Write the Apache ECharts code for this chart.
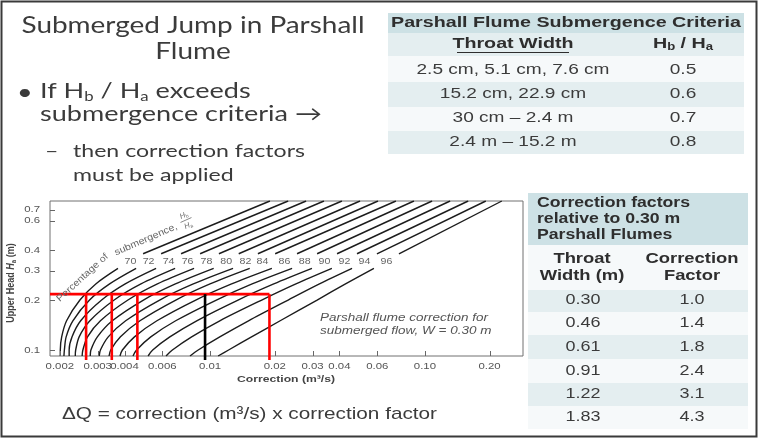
<!DOCTYPE html>
<html>
<head>
<meta charset="utf-8">
<title>Submerged Jump in Parshall Flume</title>
<script src="https://cdn.jsdelivr.net/npm/echarts@6/dist/echarts.min.js"></script>
<style>
html,body{margin:0;padding:0;background:#fff;}
#chart{width:760px;height:442px;}
</style>
</head>
<body>
<div id="chart"></div>
<script>
// ---------------- data ----------------
const submergence = [70, 72, 74, 76, 78, 80, 82, 84, 86, 88, 90, 92, 94, 96];
// upper head Ha (m) at which each curve was read; gap (label) between 0.31 and 0.38
const headLower = [0.092, 0.1, 0.12, 0.15, 0.2, 0.25, 0.31];
const headUpper = [0.38, 0.79];
// correction (m3/s) of each submergence curve at the heads above
const corr70 = [0.00201, 0.00201, 0.00204, 0.00215, 0.00248, 0.00294, 0.00373, 0.00488, 0.0190];
const corr72 = [0.00209, 0.00210, 0.00214, 0.00230, 0.00275, 0.00341, 0.00453, 0.00592, 0.0231];
const corr74 = [0.00221, 0.00221, 0.00228, 0.00250, 0.00313, 0.00403, 0.00561, 0.00733, 0.0280];
const corr76 = [0.00236, 0.00237, 0.00246, 0.00276, 0.00358, 0.00477, 0.00688, 0.00899, 0.0339];
const corr78 = [0.00254, 0.00256, 0.00269, 0.00309, 0.00415, 0.00569, 0.00843, 0.0110, 0.0411];
const corr80 = [0.00277, 0.00279, 0.00299, 0.00351, 0.00490, 0.00690, 0.0104, 0.0136, 0.0499];
const corr82 = [0.00305, 0.00309, 0.00336, 0.00405, 0.00583, 0.00836, 0.0128, 0.0167, 0.0605];
const corr84 = [0.00339, 0.00345, 0.00383, 0.00472, 0.00693, 0.0100, 0.0153, 0.0201, 0.0733];
const corr86 = [0.00381, 0.00391, 0.00445, 0.00566, 0.00858, 0.0126, 0.0194, 0.0254, 0.0889];
const corr88 = [0.00438, 0.00455, 0.00530, 0.00692, 0.0107, 0.0157, 0.0241, 0.0315, 0.108];
const corr90 = [0.00515, 0.00541, 0.00650, 0.00867, 0.0135, 0.0198, 0.0298, 0.0390, 0.131];
const corr92 = [0.00624, 0.00668, 0.00821, 0.0111, 0.0174, 0.0251, 0.0369, 0.0483, 0.159];
const corr94 = [0.00807, 0.00881, 0.0111, 0.0151, 0.0231, 0.0323, 0.0458, 0.0598, 0.192];
const corr96 = [0.0109, 0.0122, 0.0156, 0.0212, 0.0315, 0.0427, 0.0579, 0.0757, 0.228];
const curveCorrections = [corr70, corr72, corr74, corr76, corr78, corr80, corr82,
                          corr84, corr86, corr88, corr90, corr92, corr94, corr96];

const xTickLabels = ['0.002', '0.003', '0.004', '0.006', '0.01', '0.02', '0.03', '0.04', '0.06', '0.10', '0.20'];
const yTickLabels = ['0.1', '0.2', '0.3', '0.4', '0.6', '0.7'];
const xRange = [0.0018, 0.286];
const yRange = [0.092, 0.79];

// worked example drawn on the chart
const exampleHead = 0.217;
const exampleBottom = 0.087;
const exampleCorrRed = [0.00265, 0.00349, 0.00459, 0.0189];
const exampleCorrBlack = [0.00948];

// tables
const criteriaWidths = ['2.5 cm, 5.1 cm, 7.6 cm', '15.2 cm, 22.9 cm', '30 cm \u2013 2.4 m', '2.4 m \u2013 15.2 m'];
const criteriaRatios = ['0.5', '0.6', '0.7', '0.8'];
const factorWidths = ['0.30', '0.46', '0.61', '0.91', '1.22', '1.83'];
const factorValues = ['1.0', '1.4', '1.8', '2.4', '3.1', '4.3'];

// ---------------- helpers ----------------
const FS = '"Liberation Sans", Arial, sans-serif';
const FL = 'Lato, "Open Sans", sans-serif';
const mctx = document.createElement('canvas').getContext('2d');
function fit(text, size, family, weight, style, width) {
  mctx.font = (style || 'normal') + ' ' + (weight || 'normal') + ' ' + size + 'px ' + family;
  return width / mctx.measureText(text).width;
}
function txt(text, x, y, o) {
  const st = {
    text: text, fontFamily: o.family || FS, fontSize: o.size || 12,
    fontWeight: o.weight || 'normal', fontStyle: o.style || 'normal',
    fill: o.fill || '#333', align: o.align || 'left', verticalAlign: o.va || 'middle',
    textAlign: o.align || 'left', textVerticalAlign: o.va || 'middle'
  };
  if (o.rich) st.rich = o.rich;
  if (o.lh) st.lineHeight = o.lh;
  return { type: 'text', x: x, y: y, silent: true, z: 100,
    scaleX: o.sx || 1, scaleY: o.sy || 1, rotation: o.rot || 0, style: st };
}
function subRich(family, size, weight, fill, italic) {
  const ss = Math.round(size * 0.64);
  return {
    s: { fontFamily: family, fontSize: ss, fontWeight: weight, fontStyle: 'normal', fill: fill, verticalAlign: 'bottom', lineHeight: ss + 1 },
    i: { fontFamily: family, fontSize: size, fontWeight: weight, fontStyle: italic ? 'italic' : 'normal', fill: fill, lineHeight: Math.round(size * 1.2) }
  };
}
function rect(x, y, w, h, fill) {
  return { type: 'rect', silent: true, z: 1, shape: { x: x, y: y, width: w, height: h }, style: { fill: fill } };
}

// ---------------- graphic (slide content) ----------------
const G = [];
const ink = '#3b3b3b';
// slide frame
G.push({ type: 'rect', silent: true, z: 200, shape: { x: 1.5, y: 1.5, width: 755, height: 435 }, style: { fill: 'none', stroke: '#3a3a3a', lineWidth: 2 } });

// title
const tSx = fit('Submerged Jump in Parshall', 24, FL, 'normal', 'normal', 343);
G.push(txt('Submerged Jump in Parshall', 193, 25, { family: FL, size: 24, fill: ink, align: 'center', sx: tSx }));
G.push(txt('Flume', 193, 51, { family: FL, size: 24, fill: ink, align: 'center', sx: tSx }));

// bullets
const bSx = fit('submergence criteria \u2192', 21, FL, 'normal', 'normal', 282);
G.push(txt('\u2022', 17, 93, { family: FL, size: 21, fill: ink, sx: bSx }));
G.push(txt('If H{s|b} / H{s|a} exceeds', 40, 91, { family: FL, size: 21, fill: ink, sx: bSx, lh: 24,
  rich: subRich(FL, 21, 'normal', ink, false) }));
G.push(txt('submergence criteria \u2192', 40, 114, { family: FL, size: 21, fill: ink, sx: bSx }));
const b2Sx = fit('then correction factors', 18, FL, 'normal', 'normal', 232);
G.push(txt('\u2013', 45, 151, { family: FL, size: 18, fill: ink, sx: b2Sx }));
G.push(txt('then correction factors', 73, 151, { family: FL, size: 18, fill: ink, sx: b2Sx }));
G.push(txt('must be applied', 73, 175, { family: FL, size: 18, fill: ink, sx: b2Sx }));

// table 1 : submergence criteria
const headFill = '#cde1e5', rowDark = '#e4eef0', rowLight = '#f6f9fa';
G.push(rect(388, 13, 356, 20, headFill));
const t1Rows = [33, 56, 82, 107, 131, 154];
for (let i = 0; i < t1Rows.length - 1; i++) {
  G.push(rect(388, t1Rows[i], 356, t1Rows[i + 1] - t1Rows[i], i % 2 === 0 ? rowDark : rowLight));
}
const t1hSx = fit('Parshall Flume Submergence Criteria', 15, FS, 'bold', 'normal', 350);
G.push(txt('Parshall Flume Submergence Criteria', 566, 23, { size: 15, weight: 'bold', fill: '#2e2e2e', align: 'center', sx: t1hSx }));
G.push(txt('Throat Width', 513, 44, { size: 15, weight: 'bold', fill: '#2e2e2e', align: 'center', sx: t1hSx }));
G.push({ type: 'line', silent: true, z: 100, shape: { x1: 457, y1: 52.5, x2: 569, y2: 52.5 }, style: { stroke: '#2e2e2e', lineWidth: 1.2 } });
G.push(txt('H{s|b} / H{s|a}', 683, 44, { size: 15, weight: 'bold', fill: '#2e2e2e', align: 'center', sx: t1hSx, lh: 17,
  rich: subRich(FS, 15, 'bold', '#2e2e2e', false) }));
const t1Sx = fit(criteriaWidths[0], 15, FS, 'normal', 'normal', 193);
const t1Y = [70, 94, 118, 142];
criteriaWidths.forEach((w, i) => {
  G.push(txt(w, 513, t1Y[i], { size: 15, fill: ink, align: 'center', sx: t1Sx }));
  G.push(txt(criteriaRatios[i], 683, t1Y[i], { size: 15, fill: ink, align: 'center', sx: t1Sx }));
});

// table 2 : correction factors
G.push(rect(528, 193, 220, 52, headFill));
G.push(rect(528, 245, 220, 45, rowLight));
const t2Rows = [290, 312, 335, 359, 383, 406, 429];
for (let i = 0; i < t2Rows.length - 1; i++) {
  G.push(rect(528, t2Rows[i], 220, t2Rows[i + 1] - t2Rows[i], i % 2 === 0 ? rowDark : rowLight));
}
const t2hSx = fit('Correction factors', 14, FS, 'bold', 'normal', 153);
['Correction factors', 'relative to 0.30 m', 'Parshall Flumes'].forEach((s, i) => {
  G.push(txt(s, 537, [203, 219, 235][i], { size: 14, weight: 'bold', fill: '#2e2e2e', sx: t2hSx }));
});
const t2cSx = fit('Correction', 15, FS, 'bold', 'normal', 93);
G.push(txt('Throat', 582, 259, { size: 15, weight: 'bold', fill: '#2e2e2e', align: 'center', sx: t2cSx }));
G.push(txt('Width (m)', 582, 276, { size: 15, weight: 'bold', fill: '#2e2e2e', align: 'center', sx: t2cSx }));
G.push(txt('Correction', 692, 259, { size: 15, weight: 'bold', fill: '#2e2e2e', align: 'center', sx: t2cSx }));
G.push(txt('Factor', 692, 276, { size: 15, weight: 'bold', fill: '#2e2e2e', align: 'center', sx: t2cSx }));
const t2Sx = fit('0.30', 15, FS, 'normal', 'normal', 35);
const t2Y = [300, 323, 347, 371, 394, 417];
factorWidths.forEach((w, i) => {
  G.push(txt(w, 583, t2Y[i], { size: 15, fill: ink, align: 'center', sx: t2Sx }));
  G.push(txt(factorValues[i], 692, t2Y[i], { size: 15, fill: ink, align: 'center', sx: t2Sx }));
});

// formula
const fSx = fit('\u0394Q = correction (m\u00b3/s) x correction factor', 17, FS, 'normal', 'normal', 375);
G.push(txt('\u0394Q = correction (m\u00b3/s) x correction factor', 62, 414, { size: 17, fill: ink, sx: fSx }));

// chart texts
const CS = 1.2;
const cInk = '#555';
G.push(txt('Correction (m\u00b3/s)', 286, 379, { size: 9.5, weight: 'bold', fill: '#444', align: 'center',
  sx: fit('Correction (m\u00b3/s)', 9.5, FS, 'bold', 'normal', 98) }));
G.push(txt('Upper Head {i|H}{s|a} (m)', 11, 283, { size: 9, weight: 'bold', fill: '#444', align: 'center',
  rot: Math.PI / 2, sy: CS, lh: 11, rich: subRich(FS, 9, 'bold', '#444', true) }));
const nSx = fit('Parshall flume correction for', 10.5, FS, 'normal', 'italic', 168);
G.push(txt('Parshall flume correction for', 320, 318, { size: 10.5, style: 'italic', fill: cInk, sx: nSx }));
G.push(txt('submerged flow, W = 0.30 m', 320, 331, { size: 10.5, style: 'italic', fill: cInk, sx: nSx }));
G.push(txt('Percentage of', 58, 300, { size: 9.5, fill: '#666', rot: 0.74, sx: 1.12 }));
G.push(txt('submergence,', 115, 253, { size: 9.5, fill: '#666', rot: 0.41, sx: 1.12 }));
G.push({ type: 'group', x: 186, y: 220, rotation: 0.42, silent: true, z: 100, children: [
  txt('H{s|b}', 0, -5, { size: 7.5, style: 'italic', fill: '#666', align: 'center', lh: 9, rich: subRich(FS, 7.5, 'normal', '#666', true) }),
  { type: 'line', shape: { x1: -6, y1: 0, x2: 6, y2: 0 }, style: { stroke: '#777', lineWidth: 0.8 } },
  txt('H{s|a}', 0, 6, { size: 7.5, style: 'italic', fill: '#666', align: 'center', lh: 9, rich: subRich(FS, 7.5, 'normal', '#666', true) })
] });

// ---------------- series ----------------
const series = [];
curveCorrections.forEach((corr) => {
  const lineStyle = { color: '#1c1c1c', width: 1.4 };
  series.push({ type: 'line', symbol: 'none', smooth: 0.3, silent: true, lineStyle: lineStyle,
    data: headLower.map((h, j) => [corr[j], h]) });
  series.push({ type: 'line', symbol: 'none', silent: true, lineStyle: lineStyle,
    data: headUpper.map((h, j) => [corr[headLower.length + j], h]) });
});
// example construction
const redX = Math.max.apply(null, exampleCorrRed);
series.push({ type: 'line', symbol: 'none', silent: true, clip: false, z: 5,
  lineStyle: { color: '#ff0000', width: 2.6 }, data: [[xRange[0], exampleHead], [redX, exampleHead]] });
exampleCorrRed.forEach((x) => {
  series.push({ type: 'line', symbol: 'none', silent: true, clip: false, z: 5,
    lineStyle: { color: '#ff0000', width: 2.6 }, data: [[x, exampleHead], [x, exampleBottom]] });
});
exampleCorrBlack.forEach((x) => {
  series.push({ type: 'line', symbol: 'none', silent: true, clip: false, z: 5,
    lineStyle: { color: '#000000', width: 2.6 }, data: [[x, exampleHead], [x, exampleBottom]] });
});
// curve labels, placed in the gap of each curve
series.push({ type: 'custom', silent: true, clip: false, z: 6, encode: { x: 0, y: 1 },
  data: submergence.map((s, i) => {
    const c = curveCorrections[i];
    return [Math.sqrt(c[6] * c[7]), Math.sqrt(headLower[6] * headUpper[0]), s];
  }),
  renderItem: (params, api) => {
    const p = api.coord([api.value(0), api.value(1)]);
    return { type: 'text', x: p[0], y: p[1], scaleX: 1.12,
      style: { text: String(api.value(2)), fontFamily: FS, fontSize: 9.5, fill: '#666', align: 'center', verticalAlign: 'middle' } };
  } });
// x ticks and labels
series.push({ type: 'custom', silent: true, clip: false, z: 6, encode: { x: 0, y: 1 },
  data: xTickLabels.map((s) => [parseFloat(s), yRange[0]]),
  renderItem: (params, api) => {
    const p = api.coord([api.value(0), api.value(1)]);
    const x = Math.round(p[0]) + 0.5;
    return { type: 'group', children: [
      { type: 'line', shape: { x1: x, y1: p[1], x2: x, y2: p[1] - 5 }, style: { stroke: '#666', lineWidth: 1 } },
      { type: 'text', x: p[0], y: p[1] + 10, scaleX: CS,
        style: { text: xTickLabels[params.dataIndex], fontFamily: FS, fontSize: 9.5, fill: cInk, align: 'center', verticalAlign: 'middle' } }
    ] };
  } });
// y ticks and labels
series.push({ type: 'custom', silent: true, clip: false, z: 6, encode: { x: 0, y: 1 },
  data: yTickLabels.map((s) => [xRange[0], parseFloat(s)]),
  renderItem: (params, api) => {
    const p = api.coord([api.value(0), api.value(1)]);
    const y = Math.round(p[1]) + 0.5;
    return { type: 'group', children: [
      { type: 'line', shape: { x1: p[0], y1: y, x2: p[0] + 5, y2: y }, style: { stroke: '#666', lineWidth: 1 } },
      { type: 'text', x: p[0] - 10, y: p[1], scaleX: CS,
        style: { text: yTickLabels[params.dataIndex], fontFamily: FS, fontSize: 9.5, fill: cInk, align: 'right', verticalAlign: 'middle' } }
    ] };
  } });

// ---------------- chart ----------------
const chart = echarts.init(document.getElementById('chart'), null, { renderer: 'canvas' });
chart.setOption({
  animation: false,
  backgroundColor: '#ffffff',
  textStyle: { fontFamily: FS },
  grid: { left: 50, top: 201, width: 473, height: 155, show: true, borderColor: '#707070', borderWidth: 1, backgroundColor: 'rgba(0,0,0,0)' },
  xAxis: { type: 'log', logBase: 10, min: xRange[0], max: xRange[1],
    axisLine: { show: false }, axisTick: { show: false }, axisLabel: { show: false }, splitLine: { show: false } },
  yAxis: { type: 'log', logBase: 10, min: yRange[0], max: yRange[1],
    axisLine: { show: false }, axisTick: { show: false }, axisLabel: { show: false }, splitLine: { show: false } },
  graphic: { elements: G },
  series: series
});
</script>
</body>
</html>
